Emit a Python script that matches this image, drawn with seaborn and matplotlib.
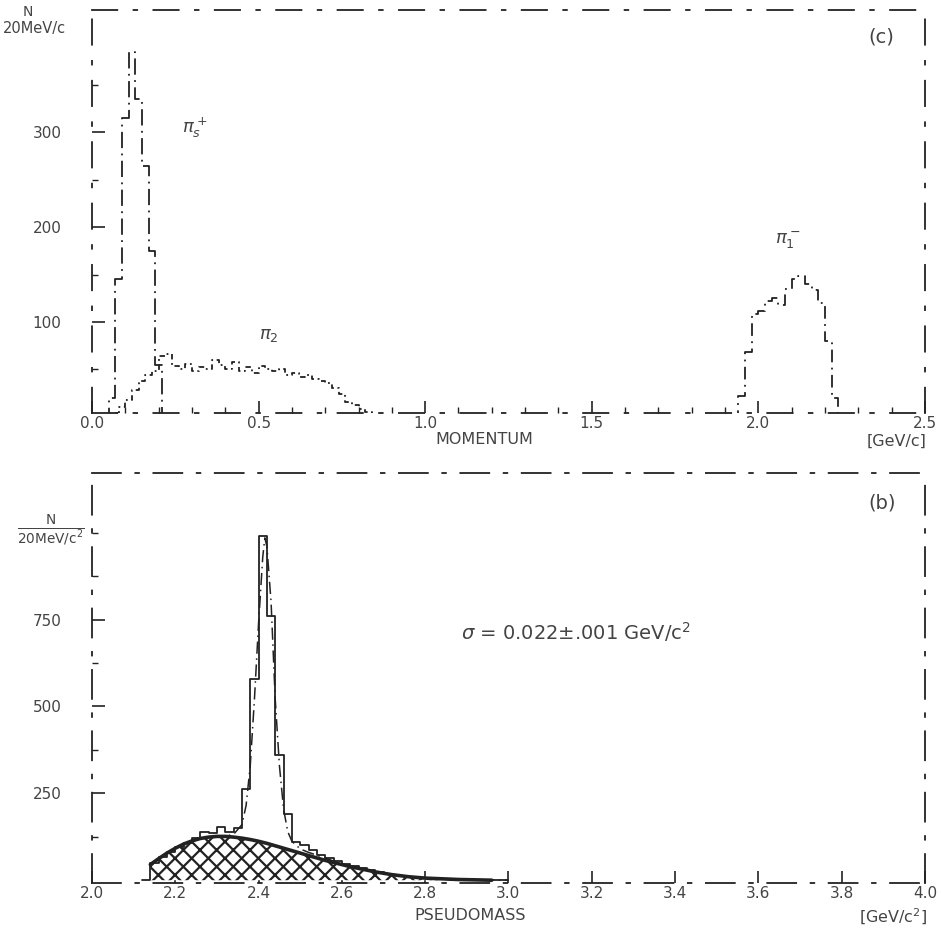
import numpy as np
import pandas as pd
import seaborn as sns
import matplotlib.pyplot as plt

# ---- top panel (c): momentum spectra, 20 MeV/c bins ----
bin_w = 0.02
pis_start = 0.03
pis_counts = [0, 20, 145, 315, 385, 335, 265, 175, 55, 0]

pi2_start = 0.04
pi2_counts = [0, 4, 10, 18, 28, 38, 44, 48, 64, 66, 54, 50, 56, 48, 52, 50, 60, 55,
              50, 58, 48, 52, 46, 54, 50, 48, 50, 44, 46, 42, 44, 40, 38, 36, 30,
              24, 16, 12, 8, 5, 3, 2, 0]

pi1_start = 1.92
pi1_counts = [0, 22, 68, 108, 112, 122, 125, 118, 135, 145, 148, 140, 134, 120, 80, 20, 0]

# ---- bottom panel (b): pseudomass ----
mass_start = 2.12
mass_counts = [0, 50, 66, 80, 95, 108, 120, 140, 135, 152, 140, 150, 262, 580, 990,
               760, 360, 190, 110, 100, 86, 72, 64, 56, 48, 41, 35, 29, 23, 18, 14,
               11, 8, 6, 5, 4, 3, 2, 2, 1, 1, 1, 1, 0]

fit_x = [2.14, 2.16, 2.18, 2.20, 2.22, 2.24, 2.26, 2.28, 2.30, 2.32, 2.34, 2.36, 2.37,
         2.38, 2.39, 2.40, 2.41, 2.415, 2.42, 2.43, 2.44, 2.45, 2.46, 2.47, 2.48, 2.50,
         2.52, 2.56, 2.60, 2.65, 2.70, 2.75, 2.80, 2.85, 2.90, 2.95, 3.00]
fit_y = [45, 62, 78, 93, 105, 114, 120, 124, 126, 127, 132, 160, 215, 330, 520, 740,
         930, 985, 960, 800, 520, 330, 205, 140, 112, 90, 80, 64, 46, 32, 20, 12, 7,
         4, 2, 1, 0]

bg_x = [2.14, 2.16, 2.18, 2.20, 2.22, 2.24, 2.26, 2.28, 2.30, 2.32, 2.34, 2.36, 2.38,
        2.40, 2.42, 2.44, 2.46, 2.48, 2.50, 2.52, 2.54, 2.56, 2.58, 2.60, 2.62, 2.64,
        2.66, 2.68, 2.70, 2.72, 2.74, 2.76, 2.78, 2.80, 2.84, 2.88, 2.92, 2.96]
bg_y = [45, 62, 78, 92, 104, 113, 120, 124, 126, 126, 124, 121, 117, 112, 106, 99, 92,
        85, 78, 71, 64, 57, 51, 45, 39, 34, 29, 24, 20, 16, 13, 10, 8, 6, 4, 2, 1, 0]


def binned(start, counts):
    n = len(counts)
    edges = [round(start + bin_w * i, 4) for i in range(n + 1)]
    centers = [round(start + bin_w * (i + 0.5), 4) for i in range(n)]
    return pd.DataFrame({'x': centers, 'w': counts}), edges


sns.set_style('white')
plt.rcParams['font.family'] = ['DejaVu Sans']
plt.rcParams['hatch.linewidth'] = 1.6
ink = '#222222'
txt = '#444444'

fig = plt.figure(figsize=(9.41, 9.32), dpi=100)
ax1 = fig.add_axes([0.0978, 0.557, 0.885, 0.432])
ax2 = fig.add_axes([0.0978, 0.0526, 0.885, 0.440])

# top panel histograms
for start, counts, ls in [(pis_start, pis_counts, (0, (9, 3, 1, 3))),
                          (pi2_start, pi2_counts, (0, (3, 2, 1, 2))),
                          (pi1_start, pi1_counts, (0, (7, 3, 1, 3)))]:
    df, edges = binned(start, counts)
    sns.histplot(data=df, x='x', weights='w', bins=edges, element='step',
                 fill=False, color=ink, linewidth=1.3, linestyle=ls, ax=ax1)

ax1.set_xlim(0, 2.5)
ax1.set_ylim(4, 429)
ax1.set_xticks([0.0, 0.5, 1.0, 1.5, 2.0, 2.5])
ax1.set_xticklabels(['0.0', '0.5', '1.0', '1.5', '2.0', '2.5'])
ax1.set_yticks([100, 200, 300])
ax1.set_xticks(np.arange(0.1, 2.5, 0.1), minor=True)
ax1.set_yticks([50, 150, 250, 350], minor=True)
ax1.text(0.27, 300, r'$\pi^+_s$', fontsize=13, color=txt)
ax1.text(0.50, 82, r'$\pi_2$', fontsize=13, color=txt)
ax1.text(2.05, 182, r'$\pi^-_1$', fontsize=13, color=txt)
ax1.text(2.33, 395, '(c)', fontsize=14, color=txt)

# bottom panel
ax2.fill_between(bg_x, 0, bg_y, facecolor='white', edgecolor=ink, hatch='xx',
                 linewidth=0)
sns.lineplot(x=bg_x, y=bg_y, color=ink, linewidth=2.6, ax=ax2)
df, edges = binned(mass_start, mass_counts)
sns.histplot(data=df, x='x', weights='w', bins=edges, element='step',
             fill=False, color=ink, linewidth=1.3, ax=ax2)
sns.lineplot(x=fit_x, y=fit_y, color=ink, linewidth=1.1,
             linestyle=(0, (8, 3, 1, 3)), ax=ax2)

ax2.set_xlim(2.0, 4.0)
ax2.set_ylim(-8, 1172)
ax2.set_xticks(np.round(np.arange(2.0, 4.01, 0.2), 1))
ax2.set_xticklabels(['2.0', '2.2', '2.4', '2.6', '2.8', '3.0', '3.2', '3.4',
                     '3.6', '3.8', '4.0'])
ax2.set_yticks([250, 500, 750])
ax2.set_yticks([125, 375, 625, 875, 1000], minor=True)
ax2.text(2.885, 713, r'$\sigma$ = 0.022$\pm$.001 GeV/c$^2$', fontsize=14,
         color=txt, va='center')
ax2.text(3.865, 1070, '(b)', fontsize=14, color=txt)

for ax, dash in [(ax1, (0, (14, 9, 2, 9))), (ax2, (0, (16, 8, 2, 8)))]:
    ax.set_xlabel('')
    ax.set_ylabel('')
    for side in ['top', 'bottom', 'left', 'right']:
        ax.spines[side].set_visible(True)
        ax.spines[side].set_color(ink)
        ax.spines[side].set_linewidth(1.3)
        ax.spines[side].set_linestyle(dash)
    ax.tick_params(axis='both', which='major', direction='in', length=9,
                   width=1.2, color=ink, labelsize=11, labelcolor=txt,
                   left=True, bottom=True)
    ax.tick_params(axis='both', which='minor', direction='in', length=4,
                   width=1.0, color=ink, left=True, bottom=True)
    ax.tick_params(axis='y', which='major', pad=22)
    ax.tick_params(axis='x', which='major', pad=2)

fig.text(0.024, 0.995, 'N', fontsize=10, color=txt, va='top')
fig.text(0.003, 0.978, '20MeV/c', fontsize=10.5, color=txt, va='top')
fig.text(0.018, 0.43, r'$\frac{\mathrm{N}}{\mathrm{20MeV/c^2}}$', fontsize=14,
         color=txt, va='center')
fig.text(0.515, 1 - 440 / 932, 'MOMENTUM', fontsize=11.5, color=txt,
         ha='center', va='center')
fig.text(0.985, 1 - 441 / 932, '[GeV/c]', fontsize=11.5, color=txt,
         ha='right', va='center')
fig.text(0.50, 1 - 916 / 932, 'PSEUDOMASS', fontsize=11.5, color=txt,
         ha='center', va='center')
fig.text(0.985, 1 - 917 / 932, '[GeV/c$^2$]', fontsize=11.5, color=txt,
         ha='right', va='center')

fig.savefig('out.png', dpi=100)
